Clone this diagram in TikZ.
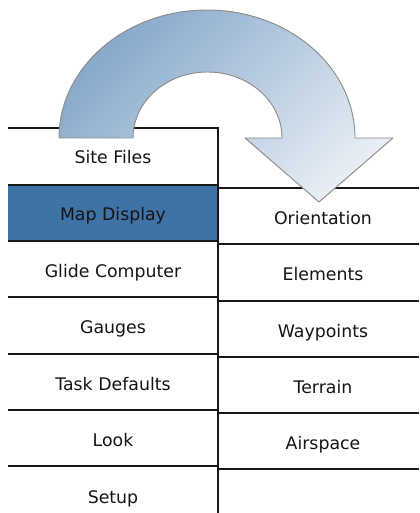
\documentclass[tikz,border=0pt]{standalone}
\usepackage{fontspec}
\setmainfont{DejaVu Sans}
\usepackage{tikz}
\usetikzlibrary{calc}

\definecolor{mapblue}{HTML}{3F73A6}
\definecolor{arrowdark}{HTML}{86A8CA}
\definecolor{arrowlight}{HTML}{E6EDF4}
\definecolor{arrowedge}{HTML}{8C8C8C}

\tikzset{
  itemtext/.style={anchor=base, inner sep=0pt, text=black!92,
    font=\fontsize{13}{15}\selectfont},
  sepline/.style={line width=1.5pt, black!90},
}

\begin{document}
\begin{tikzpicture}[x=0.75pt, y=-0.75pt]
  \useasboundingbox (0,0) rectangle (419,513);

  % === AKTYWNY WIERSZ ===
  \fill[mapblue] (8,185) rectangle (218,241);

  % === LINIE: lewa kolumna ===
  \foreach \ys in {128,185,241,297,354,410,466} {
    \draw[sepline] (8,\ys) -- (218,\ys);
  }
  \draw[sepline] (218,127) -- (218,513);

  % === LINIE: prawa kolumna ===
  \foreach \ys in {188,244,301,357,413,469} {
    \draw[sepline] (218,\ys) -- (419,\ys);
  }

  % === ETYKIETY: lewa kolumna ===
  \foreach \lbl [count=\i] in {Site Files, Map Display, Glide Computer,
      Gauges, Task Defaults, Look, Setup} {
    \pgfmathsetmacro{\yb}{164 + (\i - 1) * 56.5}
    \node[itemtext] (left\i) at (113,\yb) {\lbl};
  }

  % === ETYKIETY: prawa kolumna ===
  \foreach \lbl [count=\i] in {Orientation, Elements, Waypoints,
      Terrain, Airspace} {
    \pgfmathsetmacro{\yb}{224.3 + (\i - 1) * 56.4}
    \node[itemtext] (right\i) at (323,\yb) {\lbl};
  }

  % === STRZALKA ===
  \path[draw=arrowedge, line width=0.7pt, top color=arrowdark,
      bottom color=arrowlight, shading angle=45, line join=round]
    (59,138) arc[start angle=180, end angle=360, x radius=148, y radius=128]
    -- (393,138) -- (319,202) -- (245,138) -- (282,138)
    arc[start angle=0, end angle=-180, x radius=74.5, y radius=66]
    -- cycle;

\end{tikzpicture}
\end{document}
